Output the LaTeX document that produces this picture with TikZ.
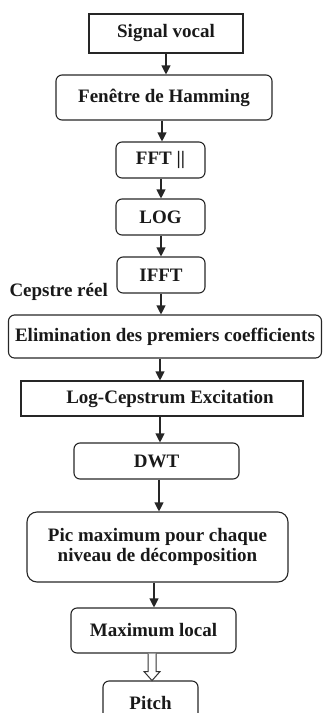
\documentclass[tikz,border=0pt]{standalone}
\usepackage{fontspec}
\setmainfont{Liberation Serif}
\usetikzlibrary{arrows.meta}
\begin{document}
\begin{tikzpicture}[x=1pt,y=-1pt,
  txt/.style={font=\bfseries\fontsize{19}{20}\selectfont,text=black!90},
  box/.style={txt,draw=black!85,line width=1.1pt,align=center,inner sep=0pt},
  rbox/.style={box,rounded corners=6pt},
  sbox/.style={box},
  arr/.style={draw=black!85,line width=1.1pt,-{Triangle[width=9pt,length=9pt]}},
  hollow/.style={draw=black!80,line width=1pt,fill=white,line join=miter}]
\useasboundingbox (0,0) rectangle (323,713);
\node[sbox,minimum width=154pt,minimum height=39pt] (sig) at (166,33.5) {Signal vocal};
\node[rbox,minimum width=216pt,minimum height=45pt] (fen) at (164,97.5) {Fenêtre de Hamming};
\node[rbox,minimum width=89pt,minimum height=36pt] (fft) at (160.5,160) {FFT ||};
\node[rbox,minimum width=89pt,minimum height=36pt] (log) at (160.5,217) {LOG};
\node[rbox,minimum width=88pt,minimum height=36pt] (ifft) at (161,275) {IFFT};
\node[txt,anchor=base east,inner sep=0pt] (cep) at (108,296) {Cepstre réel};
\node[rbox,minimum width=313pt,minimum height=43pt] (elim) at (165,336.5) {Elimination des premiers coefficients};
\node[sbox,minimum width=282pt,minimum height=35pt] (logc) at (162,398.5) {\hspace*{16pt}Log-Cepstrum Excitation};
\node[rbox,minimum width=165pt,minimum height=36pt] (dwt) at (156.5,461) {DWT};
\node[box,rounded corners=10pt,minimum width=261pt,minimum height=70pt] (pic) at (157.5,547) {Pic maximum pour chaque\\niveau de décomposition};
\node[rbox,minimum width=165pt,minimum height=45pt] (maxl) at (153.5,630.5) {Maximum local};
\node[rbox,minimum width=95pt,minimum height=44pt] (pitch) at (150.5,703) {Pitch};
\draw[arr] (sig.south -| 166,0) -- (fen.north -| 166,0);
\draw[arr] (fen.south -| 162,0) -- (fft.north -| 162,0);
\draw[arr] (fft.south -| 161,0) -- (log.north -| 161,0);
\draw[arr] (log.south -| 161,0) -- (ifft.north -| 161,0);
\draw[arr] (ifft.south -| 161,0) -- (elim.north -| 161,0);
\draw[arr] (elim.south -| 160,0) -- (logc.north -| 160,0);
\draw[arr] (logc.south -| 160,0) -- (dwt.north -| 160,0);
\draw[arr] (dwt.south -| 159,0) -- (pic.north -| 159,0);
\draw[arr] (pic.south -| 154,0) -- (maxl.north -| 154,0);
\draw[hollow] (maxl.south -| 148,0) -- ++(0,18) -- ++(-4,0) -- ++(8,9) -- ++(8,-9) -- ++(-4,0) -- ++(0,-18);
\end{tikzpicture}
\end{document}
